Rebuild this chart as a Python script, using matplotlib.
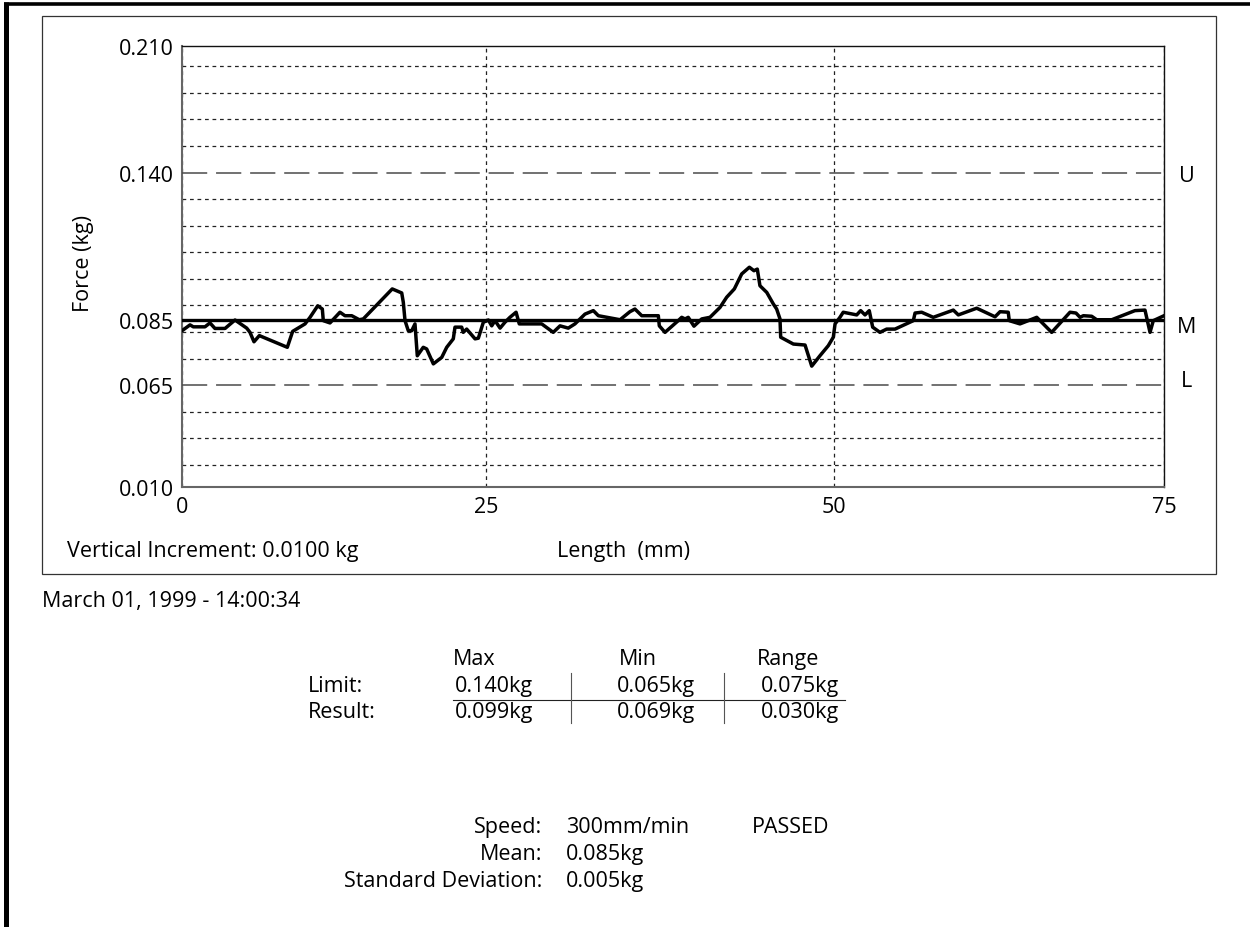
import numpy as np
import matplotlib
matplotlib.use('Agg')
import matplotlib.pyplot as plt
from matplotlib.lines import Line2D
from matplotlib.patches import Rectangle
from matplotlib.ticker import FixedLocator, NullFormatter

plt.rcParams['font.family'] = ['Open Sans', 'DejaVu Sans']
FS = 15.5

# ---- data ----
length_mm = [0.00, 0.66, 0.93, 1.89, 2.30, 2.71, 3.54, 4.36, 5.32, 5.59,
             5.92, 6.36, 8.66, 9.10, 10.12, 10.53, 11.16, 11.54, 11.62, 12.17,
             12.99, 13.40, 13.96, 14.58, 14.91, 17.29, 18.07, 18.20, 18.34, 18.61,
             18.89, 19.16, 19.35, 19.84, 20.12, 20.67, 21.36, 21.77, 22.31, 22.45,
             23.00, 23.13, 23.41, 24.10, 24.37, 24.78, 25.17, 25.41, 25.65, 26.01,
             26.36, 26.72, 27.16, 27.39, 29.00, 29.83, 30.32, 30.91, 31.39, 32.11,
             32.71, 33.07, 34.63, 35.34, 35.70, 36.19, 37.38, 37.45, 37.86, 38.81,
             39.06, 39.30, 39.53, 39.94, 40.50, 41.09, 41.81, 42.29, 42.84, 43.37,
             43.92, 44.25, 44.49, 44.68, 45.17, 45.64, 45.88, 46.12, 46.17, 47.08,
             47.92, 48.40, 48.99, 49.59, 49.95, 50.08, 50.45, 50.70, 51.72, 52.02,
             52.35, 52.67, 52.93, 53.48, 53.99, 54.62, 56.01, 56.14, 56.64, 57.52,
             59.04, 59.42, 60.81, 62.20, 62.58, 63.20, 63.28, 64.09, 65.36, 66.49,
             67.88, 68.33, 68.64, 68.89, 69.52, 69.90, 71.04, 72.80, 73.56, 73.94,
             74.19, 75.00]
force_kg = [0.0817, 0.0835, 0.0829, 0.0829, 0.0841, 0.0824, 0.0824, 0.0850, 0.0825, 0.0812,
            0.0783, 0.0802, 0.0766, 0.0815, 0.0838, 0.0860, 0.0903, 0.0891, 0.0848, 0.0841,
            0.0879, 0.0866, 0.0866, 0.0851, 0.0854, 0.0966, 0.0951, 0.0916, 0.0848, 0.0817,
            0.0817, 0.0838, 0.0740, 0.0766, 0.0761, 0.0715, 0.0735, 0.0766, 0.0792, 0.0828,
            0.0828, 0.0812, 0.0822, 0.0792, 0.0794, 0.0843, 0.0850, 0.0832, 0.0848, 0.0825,
            0.0843, 0.0860, 0.0879, 0.0838, 0.0838, 0.0812, 0.0832, 0.0825, 0.0838, 0.0872,
            0.0885, 0.0866, 0.0851, 0.0881, 0.0891, 0.0866, 0.0866, 0.0832, 0.0812, 0.0848,
            0.0860, 0.0854, 0.0860, 0.0831, 0.0854, 0.0860, 0.0897, 0.0935, 0.0966, 0.1022,
            0.1047, 0.1034, 0.1040, 0.0978, 0.0953, 0.0910, 0.0891, 0.0854, 0.0797, 0.0776,
            0.0773, 0.0708, 0.0740, 0.0771, 0.0797, 0.0838, 0.0860, 0.0879, 0.0869, 0.0885,
            0.0869, 0.0885, 0.0828, 0.0812, 0.0822, 0.0822, 0.0848, 0.0876, 0.0879, 0.0860,
            0.0887, 0.0869, 0.0894, 0.0862, 0.0881, 0.0879, 0.0848, 0.0838, 0.0860, 0.0812,
            0.0879, 0.0876, 0.0860, 0.0866, 0.0864, 0.0851, 0.0851, 0.0885, 0.0887, 0.0812,
            0.0848, 0.0866]

mean_kg = 0.085
upper_kg = 0.140
lower_kg = 0.065
ref_lines = ['U', 'M', 'L']

y_ticks = [0.010, 0.065, 0.085, 0.140, 0.210]
y_tick_labels = ['0.010', '0.065', '0.085', '0.140', '0.210']
x_ticks = [0, 25, 50, 75]

table_cols = ['Max', 'Min', 'Range']
table_rows = ['Limit:', 'Result:']
limit_vals = ['0.140kg', '0.065kg', '0.075kg']
result_vals = ['0.099kg', '0.069kg', '0.030kg']
summary_labels = ['Speed:', 'Mean:', 'Standard Deviation:']
summary_vals = ['300mm/min', '0.085kg', '0.005kg']
status = 'PASSED'
timestamp = 'March 01, 1999 - 14:00:34'

# the printout's axes are not evenly scaled: piecewise scales through the labelled values
Y_ANCHOR_KG = [0.010, 0.065, 0.085, 0.140, 0.210]
Y_ANCHOR_POS = [0, 102, 167, 314.3, 441]
X_ANCHOR_MM = [0, 25, 50, 75]
X_ANCHOR_POS = [0, 304, 652, 982]


def y_fwd(v):
    return np.interp(v, Y_ANCHOR_KG, Y_ANCHOR_POS)


def y_inv(p):
    return np.interp(p, Y_ANCHOR_POS, Y_ANCHOR_KG)


def x_fwd(v):
    return np.interp(v, X_ANCHOR_MM, X_ANCHOR_POS)


def x_inv(p):
    return np.interp(p, X_ANCHOR_POS, X_ANCHOR_MM)


W, H = 1250, 928


def fx(x):
    return x / W


def fy(y):
    return 1 - y / H


fig = plt.figure(figsize=(12.5, 9.28), dpi=100)

# page frame
fig.add_artist(Line2D([fx(6), fx(6)], [fy(3), 0], color='black', lw=3.6, solid_capstyle='butt'))
fig.add_artist(Line2D([fx(4), 1], [fy(5), fy(5)], color='black', lw=2.6, solid_capstyle='butt'))
fig.add_artist(Rectangle((fx(42), fy(575)), (1216 - 42) / W, (575 - 17) / H,
                         fill=False, ec='#333333', lw=0.9))

ax = fig.add_axes([fx(182), fy(488), (1164 - 182) / W, (488 - 47) / H])
ax.set_xscale('function', functions=(x_fwd, x_inv))
ax.set_yscale('function', functions=(y_fwd, y_inv))

ax.plot(length_mm, force_kg, color='black', lw=2.5, zorder=5)
ax.axhline(mean_kg, color='black', lw=2.4, zorder=4)
for v in (upper_kg, lower_kg):
    ax.axhline(v, color='#4a4a4a', lw=1.1, dashes=(16.5, 5.8), dash_capstyle='butt', zorder=3)

ax.set_xlim(0, 75)
ax.set_ylim(0.010, 0.210)

ax.set_yticks(y_ticks, y_tick_labels)
ax.set_xticks(x_ticks, [str(t) for t in x_ticks])
grid_pos = 22 + 26.6 * np.arange(16)
grid_pos = np.delete(grid_pos, [3, 11])
ax.yaxis.set_minor_locator(FixedLocator(y_inv(grid_pos)))
ax.yaxis.set_minor_formatter(NullFormatter())
ax.xaxis.set_minor_locator(FixedLocator([]))
ax.grid(which='minor', axis='y', color='#222222', lw=0.9, ls=(0, (3, 3)))
ax.grid(which='major', axis='x', color='#222222', lw=0.9, ls=(0, (3, 3)))
ax.tick_params(which='both', length=0, labelsize=FS)
ax.tick_params(axis='y', pad=5.8)
ax.tick_params(axis='x', pad=6.5)

for side in ('left', 'bottom'):
    ax.spines[side].set_color('#666666')
    ax.spines[side].set_linewidth(1.5)
for side in ('top', 'right'):
    ax.spines[side].set_color('#111111')
    ax.spines[side].set_linewidth(1.0)

for lab, v, dy in zip(ref_lines, (upper_kg, mean_kg, lower_kg), (-2, -5, 3)):
    ax.annotate(lab, xy=(1, v), xycoords=('axes fraction', 'data'),
                xytext=(16.5, dy), textcoords='offset points',
                ha='center', va='center', fontsize=FS, annotation_clip=False)

fig.text(fx(83), fy(263), 'Force (kg)', rotation=90, ha='center', va='center', fontsize=FS)
fig.text(fx(67), fy(557), 'Vertical Increment: 0.0100 kg', ha='left', va='baseline', fontsize=FS)
fig.text(fx(557), fy(557), 'Length  (mm)', ha='left', va='baseline', fontsize=FS)
fig.text(fx(42), fy(607), timestamp, ha='left', va='baseline', fontsize=FS)

# result table
col_x = [455, 617, 761]
head_x = [453, 619, 757]
for hx, c in zip(head_x, table_cols):
    fig.text(fx(hx), fy(665), c, ha='left', va='baseline', fontsize=FS)
for ry, rl, vals in zip((692, 718), table_rows, (limit_vals, result_vals)):
    fig.text(fx(308), fy(ry), rl, ha='left', va='baseline', fontsize=FS)
    for cx, v in zip(col_x, vals):
        fig.text(fx(cx), fy(ry), v, ha='left', va='baseline', fontsize=FS)
fig.add_artist(Line2D([fx(453), fx(845)], [fy(701), fy(701)], color='#222222', lw=0.8))
for vx in (571, 724):
    fig.add_artist(Line2D([fx(vx), fx(vx)], [fy(674), fy(724)], color='#555555', lw=0.8))

for sy, sl, sv in zip((833, 860, 887), summary_labels, summary_vals):
    fig.text(fx(542), fy(sy), sl, ha='right', va='baseline', fontsize=FS)
    fig.text(fx(566), fy(sy), sv, ha='left', va='baseline', fontsize=FS)
fig.text(fx(752), fy(833), status, ha='left', va='baseline', fontsize=FS)

fig.savefig('out.png', dpi=100)
